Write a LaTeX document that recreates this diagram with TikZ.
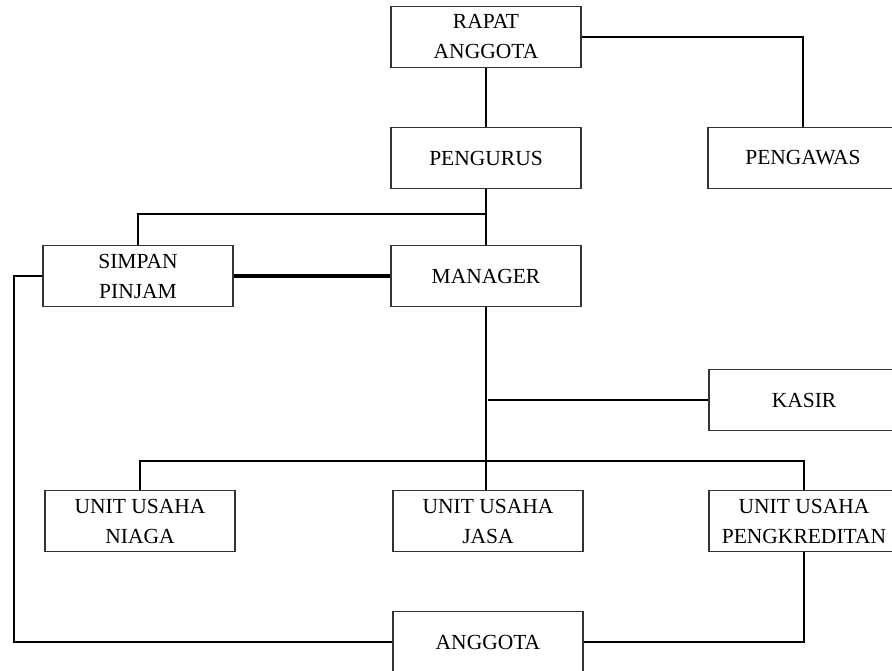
\documentclass[tikz,border=0pt]{standalone}
\usepackage{fontspec}
\setmainfont{Liberation Serif}
\usepackage{xcolor}
\usepackage{tikz}
\usetikzlibrary{positioning,calc}
\definecolor{orgInk}{HTML}{000000}
\definecolor{orgEdge}{HTML}{333333}
\tikzset{
  org box/.style={draw=orgEdge,line width=1.2pt,fill=white,align=center,
    minimum width=190pt,minimum height=61pt,inner sep=0pt,
    font=\fontsize{21.5}{30}\selectfont},
  org line/.style={draw=orgInk,line width=2pt},
  org link/.style={org line,line width=3.6pt}
}
\begin{document}
\begin{tikzpicture}[x=1pt,y=-1pt]
\useasboundingbox (0,0) rectangle (892,671);
\clip (0,0) rectangle (892,671);
\node[org box] (rapat) at (486,37) {RAPAT\\ANGGOTA};
\node[org box] (pengurus) at (486,158) {PENGURUS};
\node[org box] (pengawas) at (803,158) {PENGAWAS};
\node[org box] (simpan) at (138,276) {SIMPAN\\PINJAM};
\node[org box] (manager) at (486,276) {MANAGER};
\node[org box] (kasir) at (804,400) {KASIR};
\node[org box] (niaga) at (140,521) {UNIT USAHA\\NIAGA};
\node[org box] (jasa) at (488,521) {UNIT USAHA\\JASA};
\node[org box] (kredit) at (804,521) {UNIT USAHA\\PENGKREDITAN};
\node[org box] (anggota) at (488,642) {ANGGOTA};
\coordinate (upfork) at (486,214);
\coordinate (kasirfork) at (488,400);
\coordinate (unitfork) at (488,461);
\coordinate (rail) at (14,0);
\draw[org line] (rapat) -- (pengurus);
\draw[org line] (rapat.east) -| (pengawas.north);
\draw[org line] (pengurus) -- (manager);
\draw[org line] (upfork) -| (simpan.north);
\draw[org link] (simpan.east) -- (manager.west);
\draw[org line] (manager.south) -- (manager.south |- jasa.north);
\draw[org line] (kasirfork) -- (kasir.west);
\draw[org line] (niaga.north) |- (unitfork) -| (kredit.north);
\draw[org line] (simpan.west) -- (simpan.west -| rail) |- (anggota.west);
\draw[org line] (kredit.south) |- (anggota.east);
\end{tikzpicture}
\end{document}
